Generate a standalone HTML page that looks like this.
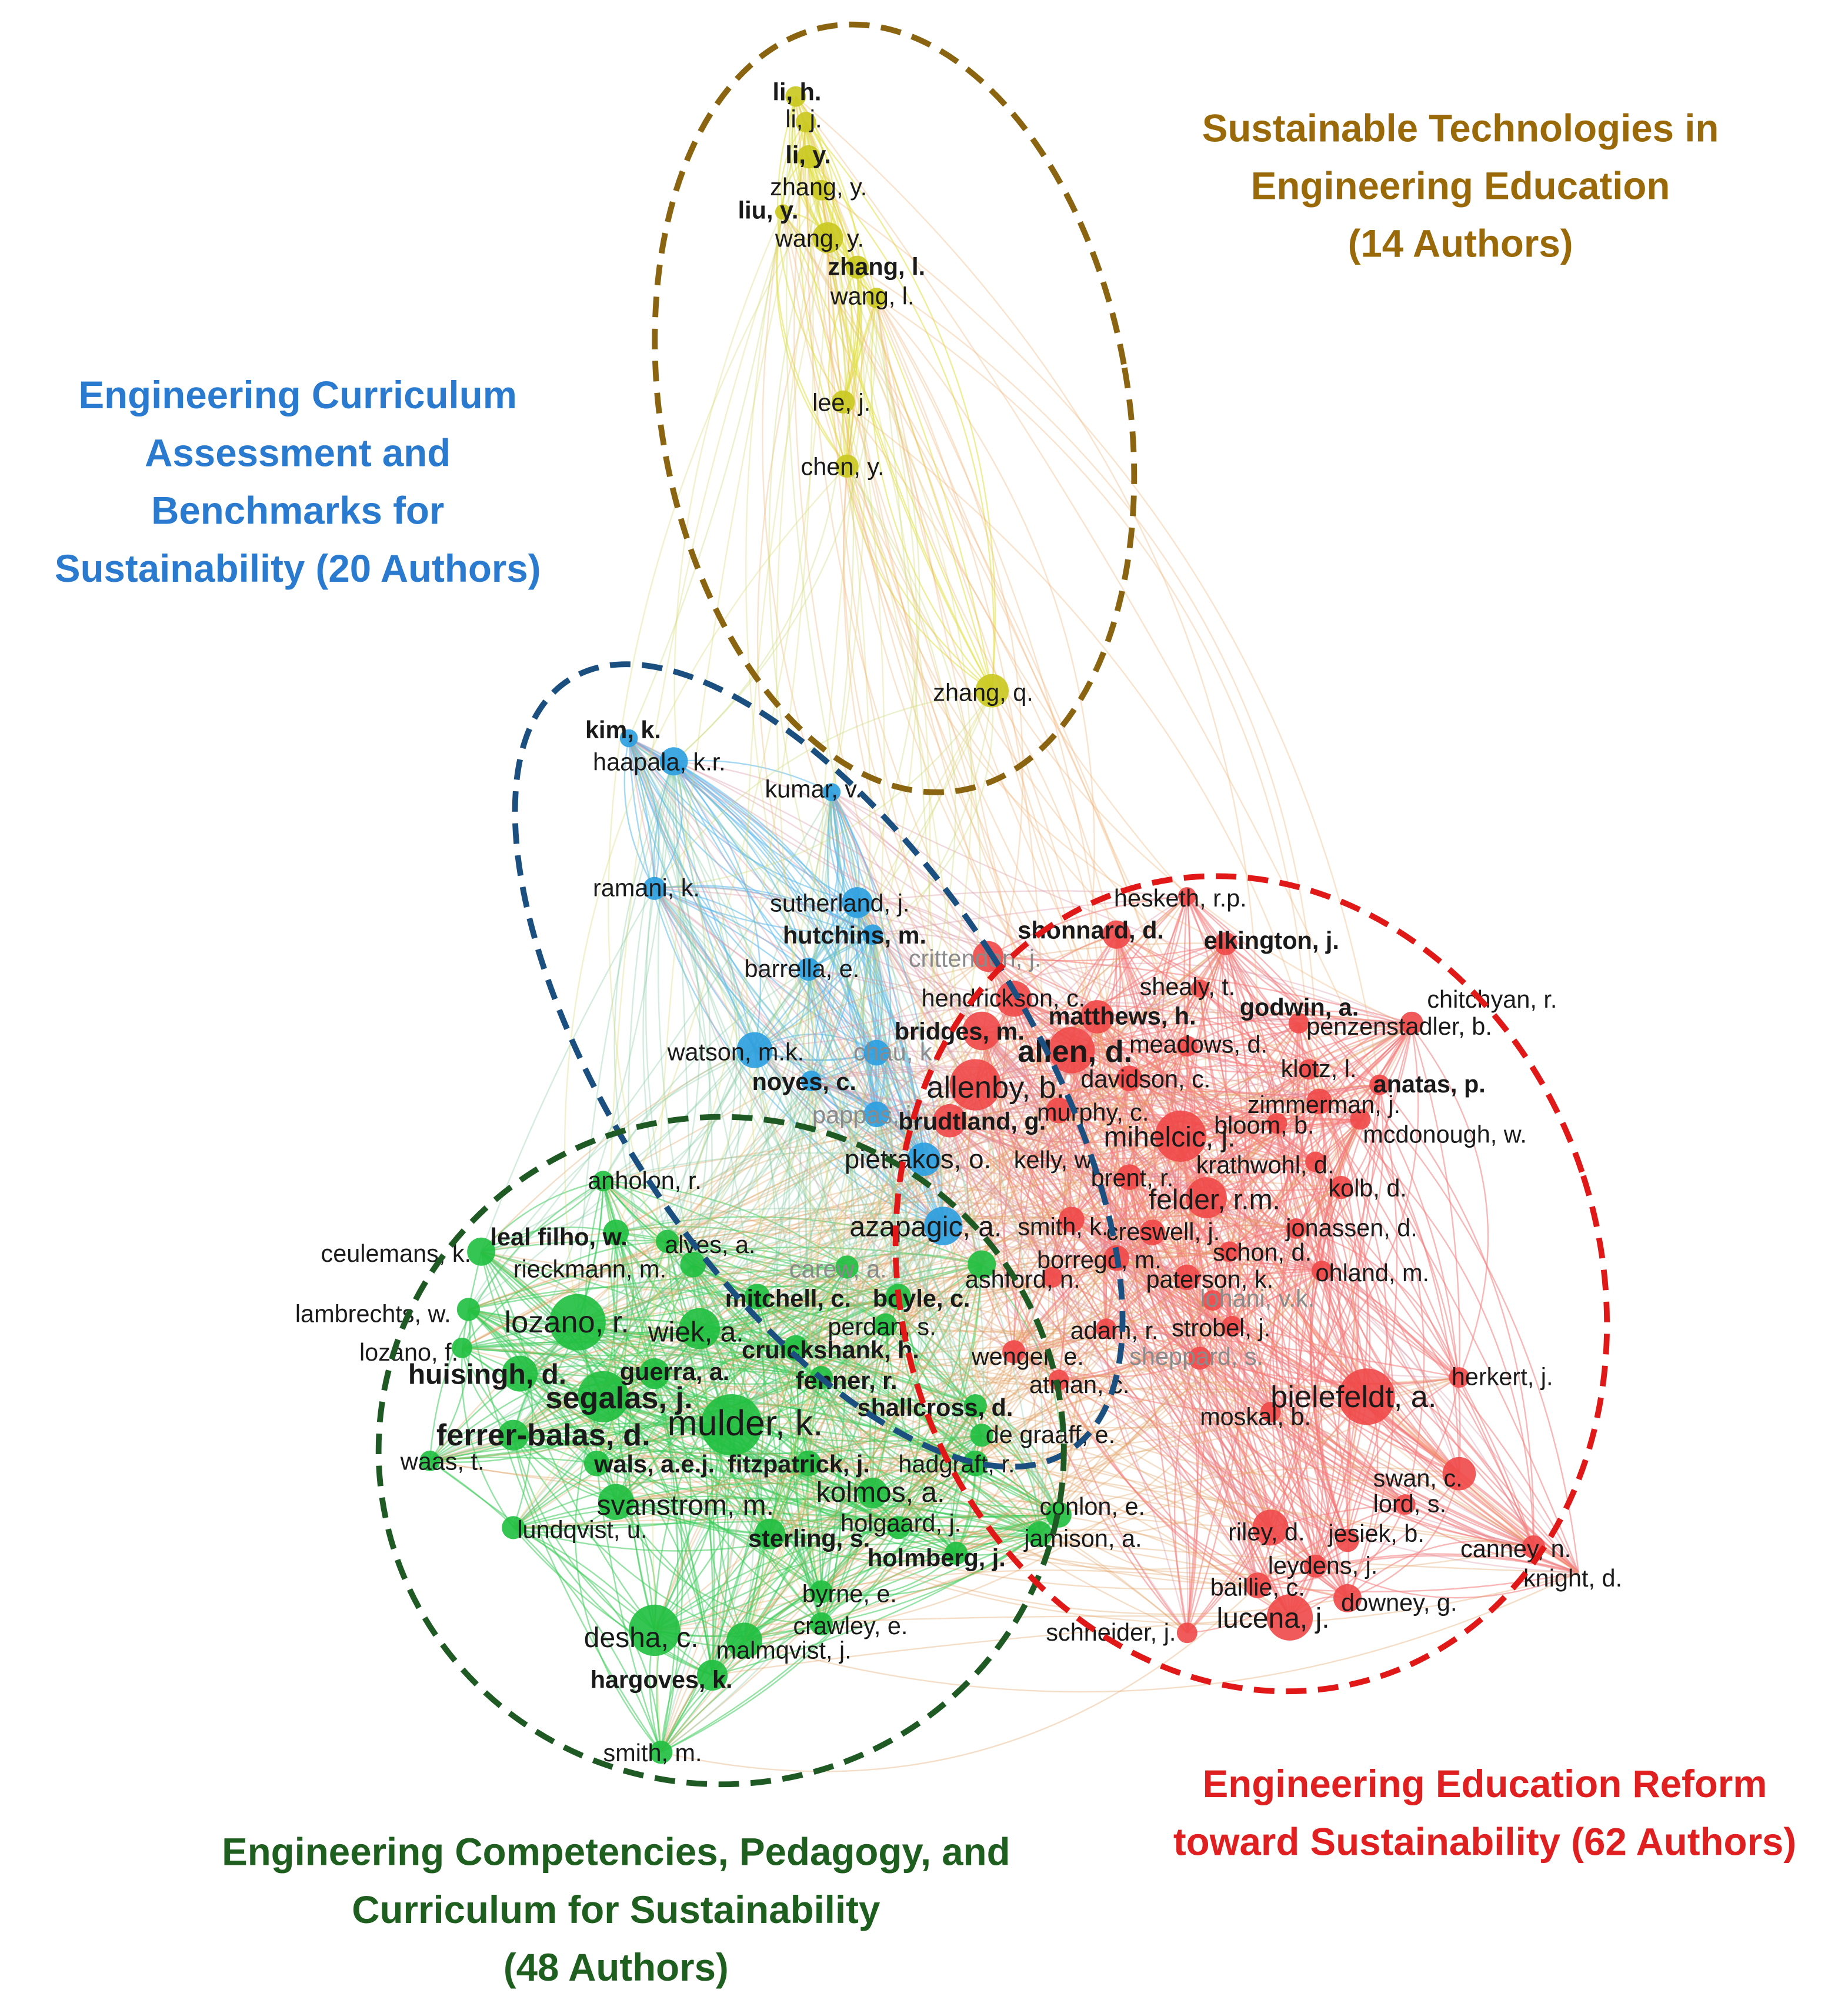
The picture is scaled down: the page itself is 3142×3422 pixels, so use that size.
<!DOCTYPE html>
<html><head><meta charset="utf-8"><style>
html,body{margin:0;padding:0;background:#fff;}
svg{display:block;}
text{font-family:"Liberation Sans",sans-serif;}
</style></head><body>
<svg id="s" width="3142" height="3422" viewBox="0 0 1440 1568" xmlns="http://www.w3.org/2000/svg">
<rect width="1440" height="1568" fill="#fff"/>
<g id="edges" fill="none"></g>
<g id="nodes"></g>
<g id="labels"></g>
<g fill="none" stroke-width="4.5" stroke-dasharray="16 9">
<ellipse cx="697" cy="318" rx="182" ry="302" transform="rotate(-10 697 318)" stroke="#8a6410"/>
<ellipse cx="638" cy="830" rx="160" ry="358" transform="rotate(-33 638 830)" stroke="#1a4f80"/>
<ellipse cx="562" cy="1130" rx="267" ry="260" stroke="#1f5a25"/>
<ellipse cx="975" cy="1000" rx="272" ry="322" transform="rotate(-18 975 1000)" stroke="#e01818"/>
</g>
<g font-weight="bold" font-size="30" text-anchor="middle">
<text fill="#9a6a0a"><tspan x="1138" y="110">Sustainable Technologies in</tspan><tspan x="1138" y="155">Engineering Education</tspan><tspan x="1138" y="200">(14 Authors)</tspan></text>
<text fill="#2a7bd0"><tspan x="232" y="318">Engineering Curriculum</tspan><tspan x="232" y="363">Assessment and</tspan><tspan x="232" y="408">Benchmarks for</tspan><tspan x="232" y="453">Sustainability (20 Authors)</tspan></text>
<text fill="#e02020"><tspan x="1157" y="1400">Engineering Education Reform</tspan><tspan x="1157" y="1445">toward Sustainability (62 Authors)</tspan></text>
<text fill="#1e5e1e"><tspan x="480" y="1453">Engineering Competencies, Pedagogy, and</tspan><tspan x="480" y="1498">Curriculum for Sustainability</tspan><tspan x="480" y="1543">(48 Authors)</tspan></text>
</g>
</svg>
<script>
var N=[
[620,75,8,'y','li, h.',602,78,1],[628,95,8,'y','li, j.',612,99,0],[630,122,9,'y','li, y.',612,127,1],[640,148,8,'y','zhang, y.',600,152,0],[610,165,6,'y','liu, y.',575,170,1],[645,185,12,'y','wang, y.',604,192,0],[668,208,9,'y','zhang, l.',645,214,1],[683,232,8,'y','wang, l.',647,237,0],[657,313,9,'y','lee, j.',633,320,0],[660,363,9,'y','chen, y.',624,370,0],[773,538,13,'y','zhang, q.',727,546,0],
[490,575,7,'b','kim, k.',456,575,1],[525,593,11,'b','haapala, k.r.',462,600,0],[648,617,7,'b','kumar, v.',596,621,0],[510,692,9,'b','ramani, k.',462,698,0],[668,703,12,'b','sutherland, j.',600,710,0],[680,728,8,'b','hutchins, m.',610,735,1],[630,755,9,'b','barrella, e.',580,761,0],[588,818,14,'b','watson, m.k.',520,826,0],[683,820,10,'b','chau, k.',665,826,2],[632,842,8,'b','noyes, c.',586,849,1],[683,868,10,'b','pappas, j.',633,875,2],[720,903,13,'b','pietrakos, o.',658,910,0,21],[735,955,15,'b','azapagic, a.',662,963,0,22],
[870,728,11,'r','shonnard, d.',793,731,1],[925,698,7,'r','hesketh, r.p.',868,706,0],[955,735,9,'r','elkington, j.',938,739,1],[770,745,12,'r','crittenden, j.',708,753,2],[790,778,14,'r','hendrickson, c.',718,784,0],[935,770,7,'r','shealy, t.',888,775,0],[855,792,13,'r','matthews, h.',817,798,1],[1012,797,8,'r','godwin, a.',966,791,1],[765,803,15,'r','bridges, m.',697,810,1],[1100,797,9,'r','chitchyan, r.',1112,785,0],[1100,800,0,'r','penzenstadler, b.',1018,806,0],[835,818,18,'r','allen, d.',793,827,1,24],[925,815,8,'r','meadows, d.',880,820,0],[1020,833,8,'r','klotz, l.',998,839,0],[760,845,20,'r','allenby, b.',722,855,0,24],[880,840,10,'r','davidson, c.',842,847,0],[1075,845,8,'r','anatas, p.',1070,851,1],[1028,858,10,'r','zimmerman, j.',972,867,0],[825,865,10,'r','murphy, c.',808,873,0],[740,873,13,'r','brudtland, g.',700,880,1],[995,875,8,'r','bloom, b.',946,883,0],[1060,872,8,'r','mcdonough, w.',1062,890,0],[920,885,20,'r','mihelcic, j.',860,893,0,22],[1025,905,8,'r','krathwohl, d.',932,914,0],[800,905,0,'r','kelly, w.',790,910,0],[880,917,10,'r','brent, r.',850,924,0],[940,933,16,'r','felder, r.m.',895,942,0,22],[1045,925,9,'r','kolb, d.',1035,932,0],[835,950,10,'r','smith, k.',793,962,0],[898,960,10,'r','creswell, j.',862,966,0],[1010,957,8,'r','jonassen, d.',1002,963,0],[870,980,10,'r','borrego, m.',808,988,0],[958,975,8,'r','schon, d.',945,982,0],[820,995,8,'r','ashford, n.',752,1003,0],[925,995,10,'r','paterson, k.',893,1003,0],[1030,990,8,'r','ohland, m.',1025,998,0],[945,1013,8,'r','lohani, v.k.',935,1018,2],[862,1035,8,'r','adam, r.',834,1043,0],[960,1033,8,'r','strobel, j.',913,1041,0],[790,1053,9,'r','wenger, e.',757,1063,0],[935,1058,9,'r','sheppard, s.',880,1063,2],[825,1075,8,'r','atman, c.',802,1085,0],[1137,1073,8,'r','herkert, j.',1131,1079,0],[1065,1088,22,'r','bielefeldt, a.',990,1096,0,24],[990,1100,8,'r','moskal, b.',935,1110,0],[1137,1148,13,'r','swan, c.',1070,1158,0],[1095,1172,8,'r','lord, s.',1070,1178,0],[990,1190,14,'r','riley, d.',957,1200,0],[1050,1200,9,'r','jesiek, b.',1035,1201,0],[1195,1205,9,'r','canney, n.',1138,1213,0],[1230,1225,0,'r','knight, d.',1187,1236,0],[1025,1220,9,'r','leydens, j.',988,1226,0],[980,1235,10,'r','baillie, c.',943,1243,0],[1050,1245,11,'r','downey, g.',1045,1255,0],[1005,1260,18,'r','lucena, j.',948,1268,0,22],[925,1272,8,'r','schneider, j.',815,1278,0],
[470,920,8,'g','anholon, r.',458,926,0],[375,975,11,'g','ceulemans, k.',250,983,0],[480,960,10,'g','leal filho, w.',382,970,1],[520,967,9,'g','alves, a.',518,976,0],[540,985,10,'g','rieckmann, m.',400,995,0],[660,987,9,'g','carew, a.',615,995,2],[765,985,11,'g','',0,0,0],[365,1020,9,'g','lambrechts, w.',230,1030,0],[450,1030,22,'g','lozano, r.',393,1038,0,24],[545,1035,16,'g','wiek, a.',505,1045,0,22],[590,1010,10,'g','mitchell, c.',565,1018,1],[700,1010,10,'g','boyle, c.',680,1018,1],[690,1032,9,'g','perdan, s.',645,1040,0],[360,1050,8,'g','lozano, f.',280,1060,0],[405,1070,14,'g','huisingh, d.',318,1078,1,22],[620,1050,10,'g','cruickshank, h.',578,1058,1],[510,1070,12,'g','guerra, a.',483,1075,1],[470,1088,20,'g','segalas, j.',425,1097,1,24],[640,1073,9,'g','fenner, r.',620,1082,1],[760,1095,9,'g','shallcross, d.',668,1103,1],[400,1118,12,'g','ferrer-balas, d.',340,1126,1,24],[570,1110,24,'g','mulder, k.',520,1118,0,28],[765,1118,9,'g','de graaff, e.',768,1124,0],[335,1138,8,'g','waas, t.',312,1145,0],[465,1140,10,'g','wals, a.e.j.',463,1147,1],[630,1140,10,'g','fitzpatrick, j.',567,1147,1],[760,1140,10,'g','hadgraft, r.',700,1147,0],[680,1163,12,'g','kolmos, a.',636,1170,0,22],[480,1170,14,'g','svanstrom, m.',465,1180,0,22],[825,1180,10,'g','conlon, e.',810,1180,0],[400,1190,9,'g','lundqvist, u.',403,1198,0],[600,1195,12,'g','sterling, s.',583,1205,1],[700,1190,9,'g','holgaard, j.',655,1193,0],[810,1195,10,'g','jamison, a.',798,1205,0],[745,1210,9,'g','holmberg, j.',676,1220,1],[640,1240,9,'g','byrne, e.',625,1248,0],[640,1265,9,'g','crawley, e.',618,1273,0],[510,1270,20,'g','desha, c.',455,1283,0,22],[580,1278,14,'g','malmqvist, j.',558,1292,0],[555,1305,12,'g','hargoves, k.',460,1315,1],[515,1365,9,'g','smith, m.',470,1372,0]
];
var C={y:'#c9c81e',b:'#2a9ee0',g:'#1fbf3f',r:'#f04848'};
var LC={y:'#e2e044',b:'#5ab8ec',g:'#3ccc5a',r:'#f47a7a'};
var seed=7;function rnd(){seed=(seed*16807)%2147483647;return seed/2147483647;}
var ns='http://www.w3.org/2000/svg';
var E=document.getElementById('edges'),ND=document.getElementById('nodes'),L=document.getElementById('labels');
var by={y:[],b:[],g:[],r:[]};N.forEach(function(n){by[n[3]].push(n);});
function edge(a,b,col,op){var mx=(a[0]+b[0])/2,my=(a[1]+b[1])/2,dx=b[0]-a[0],dy=b[1]-a[1];var k=(rnd()-0.5)*0.6;
var p=document.createElementNS(ns,'path');p.setAttribute('d','M'+a[0]+','+a[1]+' Q'+(mx-dy*k)+','+(my+dx*k)+' '+b[0]+','+b[1]);
p.setAttribute('stroke',col);p.setAttribute('stroke-width','1.1');p.setAttribute('opacity',op);E.appendChild(p);}
['r','g','b','y'].forEach(function(c){var a=by[c];a.forEach(function(n){var cnt=c=='y'?5:9;for(var i=0;i<cnt;i++){var m=a[Math.floor(rnd()*a.length)];if(m!==n)edge(n,m,LC[c],0.55);}});});
var pairs=[['g','r',220,'#e0a060'],['b','g',120,'#80c8a0'],['b','r',90,'#d890a0'],['y','r',40,'#f0b070'],['y','g',20,'#d8d870'],['y','b',15,'#c8d870']];
pairs.forEach(function(p){for(var i=0;i<p[2];i++){var a=by[p[0]][Math.floor(rnd()*by[p[0]].length)],b=by[p[1]][Math.floor(rnd()*by[p[1]].length)];edge(a,b,p[3],0.35);}});
N.forEach(function(n){if(n[2]>0){var c=document.createElementNS(ns,'circle');c.setAttribute('cx',n[0]);c.setAttribute('cy',n[1]);c.setAttribute('r',n[2]);c.setAttribute('fill',C[n[3]]);c.setAttribute('opacity','0.9');ND.appendChild(c);}
if(n[4]){var t=document.createElementNS(ns,'text');t.setAttribute('x',n[5]);t.setAttribute('y',n[6]);t.setAttribute('font-size',n[8]||19);t.setAttribute('fill',n[7]==2?'#8a8a8a':'#1a1a1a');if(n[7]==1)t.setAttribute('font-weight','bold');t.textContent=n[4];L.appendChild(t);}});
</script>
</body></html>
